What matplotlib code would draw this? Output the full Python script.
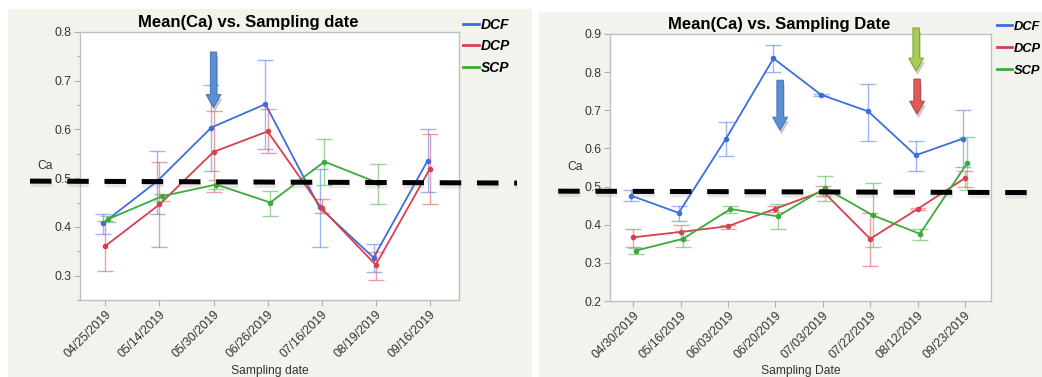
import numpy as np
import matplotlib
matplotlib.use("Agg")
import matplotlib.pyplot as plt
import matplotlib.patheffects as pe
from matplotlib.patches import Rectangle
from matplotlib.transforms import blended_transform_factory

plt.rcParams['font.family'] = ['Liberation Sans', 'DejaVu Sans']

# Left chart data
datesLeft = ["04/25/2019", "05/14/2019", "05/30/2019", "06/26/2019", "07/16/2019", "08/19/2019", "09/16/2019"]
dcfLeft = [0.408, 0.494, 0.604, 0.652, 0.440, 0.337, 0.536]
dcfLeftLo = [0.385, 0.426, 0.515, 0.560, 0.359, 0.307, 0.472]
dcfLeftHi = [0.426, 0.555, 0.692, 0.743, 0.518, 0.365, 0.600]
dcpLeft = [0.361, 0.446, 0.554, 0.596, 0.438, 0.322, 0.519]
dcpLeftLo = [0.310, 0.359, 0.472, 0.551, 0.429, 0.292, 0.446]
dcpLeftHi = [0.412, 0.533, 0.637, 0.642, 0.458, 0.348, 0.591]
scpLeft = [0.416, 0.463, 0.487, 0.450, 0.534, 0.490, np.nan]
scpLeftLo = [0.410, 0.453, 0.478, 0.423, 0.487, 0.448, np.nan]
scpLeftHi = [0.422, 0.468, 0.497, 0.474, 0.581, 0.530, np.nan]

# Right chart data
datesRight = ["04/30/2019", "05/16/2019", "06/03/2019", "06/20/2019", "07/03/2019", "07/22/2019", "08/12/2019", "09/23/2019"]
dcfRight = [0.476, 0.431, 0.626, 0.836, 0.741, 0.697, 0.582, 0.626]
dcfRightLo = [0.461, 0.411, 0.581, 0.801, 0.738, 0.620, 0.540, 0.550]
dcfRightHi = [0.490, 0.450, 0.670, 0.870, 0.743, 0.769, 0.620, 0.700]
dcpRight = [0.367, 0.381, 0.396, 0.442, 0.488, 0.363, 0.441, 0.522]
dcpRightLo = [0.341, 0.361, 0.389, 0.434, 0.475, 0.291, 0.438, 0.499]
dcpRightHi = [0.390, 0.399, 0.399, 0.450, 0.501, 0.431, 0.444, 0.540]
scpRight = [0.332, 0.363, 0.441, 0.422, 0.496, 0.425, 0.376, 0.562]
scpRightLo = [0.322, 0.341, 0.431, 0.390, 0.461, 0.341, 0.361, 0.490]
scpRightHi = [0.339, 0.383, 0.450, 0.455, 0.529, 0.509, 0.389, 0.630]

# Hand-drawn annotations: dashed threshold (start, end) and arrows (x, top, tip)
thresholdLeft = [0.494, 0.490]
thresholdRight = [0.488, 0.484]
arrowsLeft = [(2.0, 0.759, 0.645, '#5b8fd3', '#3a6db0')]
arrowsRight = [(3.10, 0.779, 0.648, '#5b8fd3', '#3a6db0'),
               (5.97, 0.916, 0.803, '#a8cc55', '#7a9e30'),
               (5.99, 0.782, 0.690, '#df5a5a', '#b03838')]

seriesNames = ["DCF", "DCP", "SCP"]
colors = ['#3d6ee0', '#d7404f', '#3aab3a']
offsets = [-0.04, 0.0, 0.05]
panelBg = '#f3f3ee'

fig = plt.figure(figsize=(10.42, 3.77), dpi=100)
fig.patch.set_facecolor('white')
W, H = 1042.0, 377.0
fig.patches.append(Rectangle((8/W, 0), 524/W, (H-9)/H, transform=fig.transFigure, facecolor=panelBg, edgecolor='none', zorder=-10))
fig.patches.append(Rectangle((539/W, 0), 503/W, (H-12)/H, transform=fig.transFigure, facecolor=panelBg, edgecolor='none', zorder=-10))

axL = fig.add_axes([80/W, 1-300/H, 379/W, 268/H])
axR = fig.add_axes([610/W, 1-301/H, 381/W, 267/H])

def drawPanel(ax, dates, series, title, xlabel, ylim, xlim, yticks, minor, threshold, lineEnds, arrows, legendPos, legendSize, legendGap, titleY, xlabY):
	ax.set_facecolor('white')
	x = np.arange(len(dates))
	for (vals, lo, hi), c, off, name in zip(series, colors, offsets, seriesNames):
		vals = np.array(vals); lo = np.array(lo); hi = np.array(hi)
		ax.errorbar(x + off, vals, yerr=[vals - lo, hi - vals], fmt='none', ecolor=c, alpha=0.5, elinewidth=1.0, capsize=5.5, capthick=1.0)
		ax.plot(x + off, vals, '-o', color=c, lw=1.3, ms=3, label=name)
	ax.set_xlim(*xlim)
	ax.set_ylim(*ylim)
	ax.set_xticks(x)
	ax.set_xticklabels(dates, rotation=45, ha='right', va='top', rotation_mode='anchor', fontsize=8.7, color='#333333')
	ax.set_yticks(yticks)
	ax.set_yticklabels(["%.1f" % v for v in yticks], fontsize=8.7, color='#333333')
	if minor:
		ax.set_yticks(np.arange(yticks[0] - 0.05, yticks[-1], 0.1), minor=True)
	ax.tick_params(axis='both', which='both', direction='out', color='#b0b0b0', length=4, width=0.8)
	ax.tick_params(axis='y', which='minor', length=2.5)
	ax.tick_params(axis='x', pad=2)
	ax.tick_params(axis='y', pad=2)
	for s in ax.spines.values():
		s.set_color('#c0c0c0')
		s.set_linewidth(1.0)
	ax.text(0.443, titleY, title, transform=ax.transAxes, ha='center', va='center', fontsize=12, fontweight='bold')
	ax.set_xlabel(xlabel, fontsize=8.7, color='#333333', va='center')
	ax.xaxis.set_label_coords(0.5, xlabY)
	ax.set_ylabel("Ca", rotation=0, fontsize=8.7, color='#333333', va='center', ha='center')
	ax.yaxis.set_label_coords(-0.092, 0.5)
	leg = ax.legend(loc='upper left', bbox_to_anchor=legendPos, frameon=False, handlelength=1.15, handletextpad=0.15,
		borderaxespad=0, borderpad=0, labelspacing=legendGap, prop={'weight': 'bold', 'style': 'italic', 'size': legendSize})
	for h in leg.get_lines():
		h.set_marker('')
		h.set_linewidth(2)
	# thick black dashed line with soft shadow, running past both edges
	trans = blended_transform_factory(ax.transAxes, ax.transData)
	ax.plot(lineEnds, threshold, transform=trans, color='black', lw=3.6, linestyle=(0, (4.3, 3.15)),
		solid_capstyle='butt', dash_capstyle='butt', clip_on=False, zorder=10,
		path_effects=[pe.SimpleLineShadow(offset=(0.5, -2.5), shadow_color='#888888', alpha=0.2), pe.Normal()])
	for ax_x, top, tip, fc, ec in arrows:
		xw = (xlim[1] - xlim[0]) / ax.bbox.width
		yh = (ylim[1] - ylim[0]) / ax.bbox.height
		ax.arrow(ax_x, top, 0, tip - top, width=6.5*xw, head_width=15*xw, head_length=13*yh, length_includes_head=True,
			facecolor=fc, edgecolor=ec, linewidth=0.6, clip_on=False, zorder=11,
			path_effects=[pe.SimplePatchShadow(offset=(1, -3), alpha=0.25), pe.Normal()])

drawPanel(axL, datesLeft, [(dcfLeft, dcfLeftLo, dcfLeftHi), (dcpLeft, dcpLeftLo, dcpLeftHi), (scpLeft, scpLeftLo, scpLeftHi)],
	"Mean(Ca) vs. Sampling date", "Sampling date", (0.253, 0.8), (-0.47, 6.54), [0.3, 0.4, 0.5, 0.6, 0.7, 0.8], True,
	thresholdLeft, [-0.132, 1.153], arrowsLeft, (1.01, 1.053), 10, 0.54, 1.037, (300-371)/268)
drawPanel(axR, datesRight, [(dcfRight, dcfRightLo, dcfRightHi), (dcpRight, dcpRightLo, dcpRightHi), (scpRight, scpRightLo, scpRightHi)],
	"Mean(Ca) vs. Sampling Date", "Sampling Date", (0.2, 0.9), (-0.49, 7.55), [0.2, 0.3, 0.4, 0.5, 0.6, 0.7, 0.8, 0.9], False,
	thresholdRight, [-0.136, 1.19], arrowsRight, (1.0157, 1.05), 9.3, 0.78, 1.037, (301-371)/267)

fig.savefig("out.png", dpi=100)
